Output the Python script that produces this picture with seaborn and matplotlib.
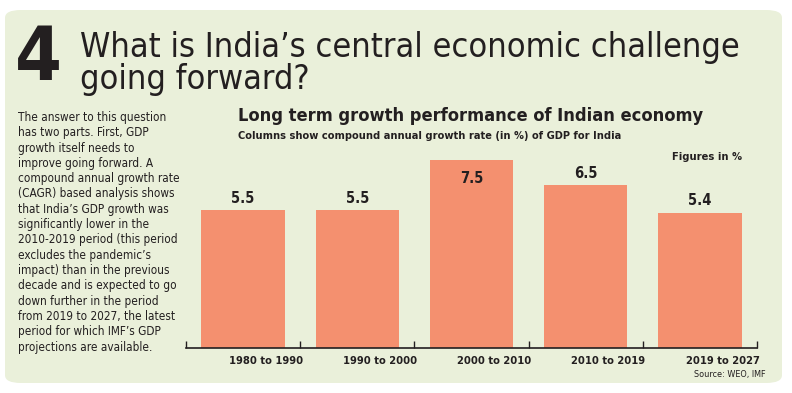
import matplotlib
matplotlib.use("Agg")
import matplotlib.pyplot as plt
import matplotlib.patches as mpatches
import seaborn as sns
import pandas as pd

# ----------------------
# Data
# ----------------------
periods = ["1980 to 1990", "1990 to 2000", "2000 to 2010", "2010 to 2019", "2019 to 2027"]
cagr = [5.5, 5.5, 7.5, 6.5, 5.4]

headline_1 = "What is India\u2019s central economic challenge"
headline_2 = "going forward?"
chart_title = "Long term growth performance of Indian economy"
chart_subtitle = "Columns show compound annual growth rate (in %) of GDP for India"
body = ("The answer to this question\nhas two parts. First, GDP\ngrowth itself needs to\n"
        "improve going forward. A\ncompound annual growth rate\n(CAGR) based analysis shows\n"
        "that India\u2019s GDP growth was\nsignificantly lower in the\n2010-2019 period (this period\n"
        "excludes the pandemic\u2019s\nimpact) than in the previous\ndecade and is expected to go\n"
        "down further in the period\nfrom 2019 to 2027, the latest\nperiod for which IMF\u2019s GDP\n"
        "projections are available.")

bar_color = "#F4906F"
panel_color = "#EAF0DA"
ink = "#231F20"

W, H = 792, 393


def fx(px):
    return px / W


def fy(py):
    return 1 - py / H


df = pd.DataFrame({"period": periods, "cagr": cagr})

sns.set_theme(style="white")
plt.rcParams["font.family"] = ["DejaVu Sans"]
plt.rcParams["font.stretch"] = "condensed"

fig = plt.figure(figsize=(W / 100, H / 100), dpi=100)
fig.patch.set_facecolor("white")

# rounded background panel
panel = mpatches.FancyBboxPatch((fx(5), fy(383)), 777 / W, 373 / H,
                                boxstyle="round,pad=0,rounding_size=0.02",
                                transform=fig.transFigure, facecolor=panel_color,
                                edgecolor="none", zorder=-10)
fig.patches.append(panel)

# headline
fig.text(fx(15), fy(80), "4", fontsize=54, fontweight="bold", color=ink,
         va="baseline", ha="left")
fig.text(fx(80), fy(57), headline_1, fontsize=24.6, color=ink, va="baseline", ha="left")
fig.text(fx(80), fy(89), headline_2, fontsize=24.6, color=ink, va="baseline", ha="left")

# body text
fig.text(fx(18), fy(111), body, fontsize=8.5, color=ink, va="top", ha="left",
         linespacing=1.23)

# chart titles
fig.text(fx(238), fy(107), chart_title, fontsize=13.1, fontweight="bold",
         color=ink, va="top", ha="left")
fig.text(fx(238), fy(131), chart_subtitle, fontsize=7.95, fontweight="bold",
         color=ink, va="top", ha="left")
fig.text(fx(742), fy(152), "Figures in %", fontsize=8, fontweight="bold",
         color=ink, va="top", ha="right")
fig.text(fx(766), fy(370), "Source: WEO, IMF", fontsize=6.5,
         color=ink, va="top", ha="right")

# ----------------------
# Bar chart
# ----------------------
ax = fig.add_axes([fx(186), fy(348), 571 / W, 198 / H])
ax.set_facecolor("none")
sns.barplot(data=df, x="period", y="cagr", color=bar_color, saturation=1,
            width=0.73, linewidth=0, ax=ax)
ax.set_xlim(-0.5, len(periods) - 0.5)
ax.set_ylim(0, 7.9)

# value labels: above the bar, or inside if it would hit the top
top = ax.get_ylim()[1]
for i, v in enumerate(cagr):
    inside = v + 0.6 > top
    ax.annotate(f"{v}", (i, v), xytext=(0, -8 if inside else 3),
                textcoords="offset points", ha="center",
                va="top" if inside else "bottom",
                fontsize=10.5, fontweight="bold", color=ink)

for s in ["top", "right", "left"]:
    ax.spines[s].set_visible(False)
ax.spines["bottom"].set_color(ink)
ax.spines["bottom"].set_linewidth(1.2)
ax.set_yticks([])
ax.set_xlabel("")
ax.set_ylabel("")

ax.set_xticks([i + 0.2 for i in range(len(periods))])
ax.set_xticklabels(periods, fontsize=8, fontweight="bold", color=ink)
ax.tick_params(axis="x", which="major", bottom=False, length=0, pad=6)
ax.set_xticks([i - 0.5 for i in range(len(periods) + 1)], minor=True)
ax.tick_params(axis="x", which="minor", bottom=True, direction="in",
               length=5, width=1, color=ink)

fig.savefig("out.png", dpi=100, facecolor=fig.get_facecolor())
